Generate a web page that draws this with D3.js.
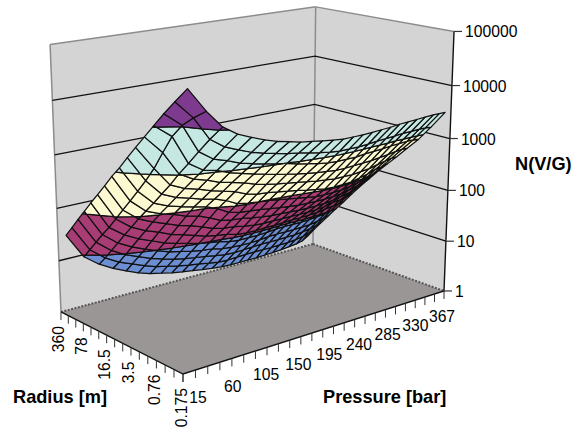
<!DOCTYPE html>
<html>
<head>
<meta charset="utf-8">
<script src="https://d3js.org/d3.v7.min.js"></script>
<style>
body { margin: 0; background: #fff; }
text { font-family: "Liberation Sans", Arial, sans-serif; fill: #000; }
</style>
</head>
<body>
<div id="chart"></div>
<script>
const pressures = [15, 30, 45, 60, 75, 90, 105, 120, 135, 150, 165, 180, 195, 210, 225, 240, 255, 270, 285, 300, 315, 330, 345, 356, 367];
const pressureLabels = [15, 60, 105, 150, 195, 240, 285, 330, 367];
const radii = [0.175, 0.28, 0.46, 0.76, 1.27, 2.1, 3.5, 6, 10, 16.5, 28, 47, 78, 130, 216, 360];
const radiusLabels = [0.175, 0.76, 3.5, 16.5, 78, 360];
const valueTicks = [1, 10, 100, 1000, 10000, 100000];
const bandColors = ['#6C8ED2', '#A83C75', '#FDF9D0', '#C6E8E3', '#7E3A8F'];

// log10 of N, one line per pressure, radius going 0.175 -> 360
const logN = [
    [4.80, 4.53, 4.28, 4.03, 3.79, 3.56, 3.33, 3.10, 2.90, 2.68, 2.47, 2.27, 2.06, 1.86, 1.65, 1.45],
    [4.38, 4.21, 4.03, 3.79, 3.46, 3.13, 2.86, 2.62, 2.39, 2.17, 1.95, 1.74, 1.55, 1.35, 1.15, 0.96],
    [4.07, 3.80, 3.53, 3.27, 3.03, 2.78, 2.56, 2.34, 2.14, 1.94, 1.73, 1.53, 1.32, 1.12, 0.92, 0.74],
    [3.90, 3.62, 3.35, 3.10, 2.88, 2.66, 2.44, 2.23, 2.03, 1.82, 1.60, 1.39, 1.18, 0.97, 0.77, 0.59],
    [3.80, 3.52, 3.27, 3.04, 2.81, 2.59, 2.37, 2.16, 1.96, 1.73, 1.51, 1.29, 1.07, 0.87, 0.67, 0.47],
    [3.71, 3.43, 3.18, 2.95, 2.72, 2.51, 2.30, 2.10, 1.87, 1.64, 1.41, 1.19, 0.98, 0.77, 0.57, 0.37],
    [3.64, 3.37, 3.12, 2.89, 2.67, 2.45, 2.25, 2.05, 1.82, 1.58, 1.35, 1.12, 0.90, 0.70, 0.49, 0.29],
    [3.59, 3.32, 3.07, 2.83, 2.61, 2.39, 2.17, 1.96, 1.73, 1.50, 1.28, 1.07, 0.85, 0.64, 0.44, 0.24],
    [3.54, 3.27, 3.03, 2.78, 2.54, 2.30, 2.06, 1.84, 1.63, 1.42, 1.21, 1.01, 0.80, 0.59, 0.39, 0.19],
    [3.51, 3.24, 2.99, 2.73, 2.49, 2.25, 2.02, 1.79, 1.59, 1.37, 1.17, 0.97, 0.76, 0.56, 0.35, 0.15],
    [3.48, 3.20, 2.94, 2.69, 2.45, 2.23, 2.00, 1.77, 1.57, 1.35, 1.14, 0.94, 0.74, 0.53, 0.32, 0.12],
    [3.45, 3.16, 2.90, 2.65, 2.42, 2.20, 1.98, 1.75, 1.53, 1.31, 1.09, 0.89, 0.69, 0.49, 0.28, 0.09],
    [3.43, 3.13, 2.86, 2.62, 2.39, 2.17, 1.95, 1.72, 1.50, 1.28, 1.07, 0.87, 0.67, 0.46, 0.25, 0.06],
    [3.43, 3.11, 2.83, 2.59, 2.36, 2.14, 1.92, 1.69, 1.48, 1.27, 1.07, 0.87, 0.66, 0.45, 0.24, 0.04],
    [3.43, 3.11, 2.82, 2.57, 2.33, 2.10, 1.89, 1.67, 1.47, 1.27, 1.08, 0.87, 0.66, 0.46, 0.25, 0.03],
    [3.44, 3.11, 2.82, 2.55, 2.31, 2.07, 1.86, 1.65, 1.46, 1.27, 1.08, 0.88, 0.67, 0.47, 0.26, 0.03],
    [3.45, 3.12, 2.82, 2.55, 2.29, 2.04, 1.83, 1.64, 1.45, 1.27, 1.09, 0.90, 0.69, 0.48, 0.26, 0.03],
    [3.46, 3.14, 2.84, 2.56, 2.29, 2.03, 1.83, 1.64, 1.45, 1.27, 1.10, 0.91, 0.70, 0.48, 0.26, 0.03],
    [3.48, 3.15, 2.85, 2.57, 2.29, 2.04, 1.83, 1.64, 1.45, 1.27, 1.10, 0.91, 0.70, 0.48, 0.26, 0.04],
    [3.49, 3.16, 2.86, 2.58, 2.31, 2.05, 1.84, 1.65, 1.46, 1.28, 1.11, 0.91, 0.70, 0.49, 0.27, 0.05],
    [3.50, 3.18, 2.88, 2.60, 2.33, 2.09, 1.87, 1.67, 1.48, 1.30, 1.12, 0.92, 0.71, 0.49, 0.27, 0.06],
    [3.51, 3.18, 2.89, 2.62, 2.37, 2.13, 1.91, 1.71, 1.52, 1.34, 1.15, 0.94, 0.72, 0.51, 0.29, 0.08],
    [3.52, 3.19, 2.90, 2.65, 2.41, 2.19, 1.96, 1.75, 1.55, 1.36, 1.17, 0.96, 0.75, 0.54, 0.32, 0.10],
    [3.52, 3.19, 2.90, 2.66, 2.43, 2.21, 2.00, 1.79, 1.59, 1.39, 1.19, 0.99, 0.78, 0.57, 0.36, 0.13],
    [3.52, 3.18, 2.89, 2.66, 2.44, 2.24, 2.04, 1.83, 1.63, 1.42, 1.21, 1.01, 0.81, 0.61, 0.41, 0.20]
];

const width = 584, height = 430;

// pressure runs front -> right, radius front -> left, value goes up
const pressureAxis = d3.scalePoint().domain(pressures).range([0, 1]);
const radiusAxis = d3.scalePoint().domain(radii).range([0, 1]);
// the mesh is wider near the front corner than the axis ticks are
const pressureU = d3.scalePow().exponent(0.8).domain([15, 367]).range([0.028, 0.975]);
const radiusV = d3.scalePow().exponent(0.8).domain([1, radii.length]).range([0, 1]);
const valueZ = d3.scaleLog().domain([1, 100000]).range([0, 1]);

// perspective camera fitted on the corners of the box
function project(u, v, z) {
    const w = 1 + 0.1527 * u + 0.1151 * v - 0.0587 * z;
    return [
        (183 + 328.8 * u - 115 * v - 15.1 * z) / w,
        (374 - 38.6 * u - 26.1 * v - 301 * z) / w
    ];
}

const svg = d3.select('#chart').append('svg')
    .attr('width', width)
    .attr('height', height)
    .style('display', 'block');

const line = d3.line();
const polyPath = pts => line(pts.map(p => project(p[0], p[1], p[2]))) + 'Z';
const segPath = (a, b) => line([project(...a), project(...b)]);

// walls and floor
svg.append('path').attr('d', polyPath([[0, 1, 0], [1, 1, 0], [1, 1, 1], [0, 1, 1]])).attr('fill', '#D4D4D4');
svg.append('path').attr('d', polyPath([[1, 1, 0], [1, 0, 0], [1, 0, 1], [1, 1, 1]])).attr('fill', '#D4D4D4');
svg.append('path').attr('d', polyPath([[0, 0, 0], [1, 0, 0], [1, 1, 0], [0, 1, 0]])).attr('fill', '#9A9696');

// grey frame of the walls
const wallEdges = [
    [[0, 1, 0], [0, 1, 1]], [[1, 1, 0], [1, 1, 1]],
    [[0, 1, 1], [1, 1, 1]], [[1, 1, 1], [1, 0, 1]]
];
svg.append('g').selectAll('path').data(wallEdges).join('path')
    .attr('d', d => segPath(d[0], d[1]))
    .attr('stroke', '#8C8C8C').attr('stroke-width', 1.5).attr('fill', 'none');

// back edges of the floor are dotted
svg.append('path').attr('d', segPath([0, 1, 0], [1, 1, 0]) + segPath([1, 1, 0], [1, 0, 0]))
    .attr('stroke', '#555').attr('stroke-width', 2).attr('stroke-dasharray', '2,1.5').attr('fill', 'none');

// decade grid on both walls
const decades = valueTicks.slice(1, -1);
svg.append('g').selectAll('path').data(decades).join('path')
    .attr('d', d => {
        const z = valueZ(d);
        return line([project(0, 1, z), project(1, 1, z), project(1, 0, z)]);
    })
    .attr('stroke', '#111').attr('stroke-width', 1.3).attr('fill', 'none');

// clip a cell polygon to one decade, value is linear along the edges
function clipValue(poly, limit, keepAbove) {
    const inside = p => keepAbove ? p[2] >= limit : p[2] <= limit;
    const out = [];
    poly.forEach((p, i) => {
        const q = poly[(i + 1) % poly.length];
        if (inside(p)) out.push(p);
        if (inside(p) !== inside(q)) {
            const t = (limit - p[2]) / (q[2] - p[2]);
            out.push([p[0] + t * (q[0] - p[0]), p[1] + t * (q[1] - p[1]), limit]);
        }
    });
    return out;
}

// cells from the far corner to the near one, so nearer ones cover the rest
const pieces = [];
for (let r = radii.length - 2; r >= 0; r--) {
    for (let p = pressures.length - 2; p >= 0; p--) {
        const corner = (pi, ri) => [pressureU(pressures[pi]), radiusV(ri + 1), logN[pi][ri]];
        const cell = [corner(p, r), corner(p + 1, r), corner(p + 1, r + 1), corner(p, r + 1)];
        bandColors.forEach((color, b) => {
            const part = clipValue(clipValue(cell, b, true), b + 1, false);
            if (part.length > 2) {
                pieces.push({ color, pts: part.map(c => [c[0], c[1], valueZ(Math.pow(10, c[2]))]) });
            }
        });
    }
}

svg.append('g').selectAll('path').data(pieces).join('path')
    .attr('d', d => polyPath(d.pts))
    .attr('fill', d => d.color)
    .attr('stroke', '#111')
    .attr('stroke-width', 1.25)
    .attr('stroke-linejoin', 'round');

// front edges of the floor and the value axis
svg.append('path').attr('d', line([project(0, 1, 0), project(0, 0, 0), project(1, 0, 0), project(1, 0, 1)]))
    .attr('stroke', '#111').attr('stroke-width', 1.4).attr('fill', 'none');

// radius axis
const radiusG = svg.append('g');
radiusG.selectAll('line').data(radii).join('line')
    .attr('x1', d => project(0, radiusAxis(d), 0)[0])
    .attr('y1', d => project(0, radiusAxis(d), 0)[1])
    .attr('x2', d => project(0, radiusAxis(d), 0)[0])
    .attr('y2', d => project(0, radiusAxis(d), 0)[1] + 8)
    .attr('stroke', '#333').attr('stroke-width', 1);
radiusG.selectAll('text').data(radiusLabels).join('text')
    .attr('transform', d => {
        const p = project(0, radiusAxis(d), 0);
        return 'translate(' + (p[0] + 3.5) + ',' + (p[1] + 14) + ') rotate(-90)';
    })
    .attr('text-anchor', 'end')
    .attr('font-size', 15.7)
    .text(d => d);

// pressure axis
const pressureG = svg.append('g');
pressureG.selectAll('line').data(pressures).join('line')
    .attr('x1', d => project(pressureAxis(d), 0, 0)[0])
    .attr('y1', d => project(pressureAxis(d), 0, 0)[1])
    .attr('x2', d => project(pressureAxis(d), 0, 0)[0])
    .attr('y2', d => project(pressureAxis(d), 0, 0)[1] + 8)
    .attr('stroke', '#333').attr('stroke-width', 1);
pressureG.selectAll('text').data(pressureLabels).join('text')
    .attr('x', d => project(pressureAxis(d), 0, 0)[0] + 15 - 17 * pressureAxis(d))
    .attr('y', d => project(pressureAxis(d), 0, 0)[1] + 29 + 2 * pressureAxis(d))
    .attr('text-anchor', 'middle')
    .attr('font-size', 15.7)
    .text(d => d);

// value axis
const valueG = svg.append('g');
valueG.selectAll('line').data(valueTicks).join('line')
    .attr('x1', d => project(1, 0, valueZ(d))[0])
    .attr('y1', d => project(1, 0, valueZ(d))[1])
    .attr('x2', d => project(1, 0, valueZ(d))[0] + 8)
    .attr('y2', d => project(1, 0, valueZ(d))[1])
    .attr('stroke', '#333').attr('stroke-width', 1.2);
valueG.selectAll('text').data(valueTicks).join('text')
    .attr('x', d => project(1, 0, valueZ(d))[0] + 11)
    .attr('y', d => project(1, 0, valueZ(d))[1] + 6)
    .attr('font-size', 15.7)
    .text(d => d);

// axis titles
const titles = [
    { label: 'Radius [m]', x: 13, y: 403 },
    { label: 'Pressure [bar]', x: 323, y: 403 },
    { label: 'N(V/G)', x: 515, y: 170 }
];
svg.append('g').selectAll('text').data(titles).join('text')
    .attr('x', d => d.x)
    .attr('y', d => d.y)
    .attr('font-size', 18.2)
    .attr('font-weight', 'bold')
    .text(d => d.label);
</script>
</body>
</html>
